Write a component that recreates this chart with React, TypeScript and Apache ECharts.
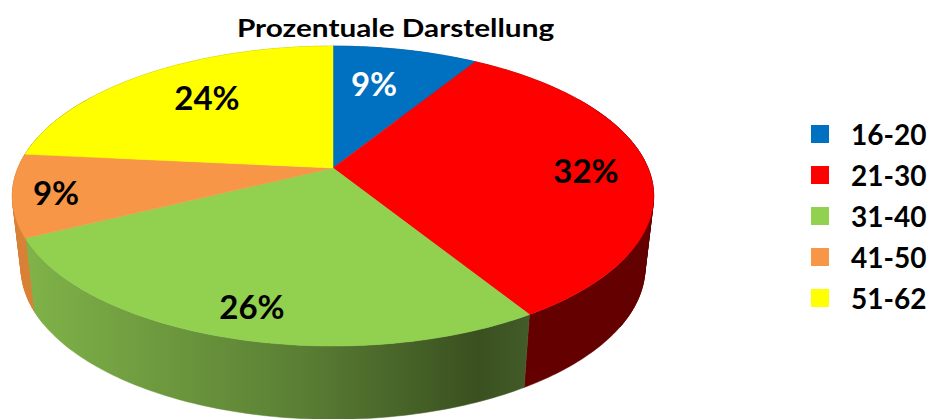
import React, { useEffect, useRef } from "react";
import * as echarts from "echarts";

const titleText = "Prozentuale Darstellung";
const categories = ["16-20", "21-30", "31-40", "41-50", "51-62"];
const shares = [8.8, 32.49, 26.49, 8.9, 23.5];

const sliceColors = ["#0070C0", "#FF0000", "#92D050", "#F79646", "#FFFF00"];
const labelColors = ["#FFFFFF", "#000000", "#000000", "#000000", "#000000"];
const labelAnchors = [
  [374, 83],
  [586, 170],
  [252, 306],
  [56, 192],
  [207, 97],
];
const FONT = "Lato, 'Noto Sans', sans-serif";

// perspective projection of the pie disc
const TILT = 0.187;
const TOP = { cx: 333, cy: 168, r: 315, s: 144.7 };
const BOTTOM = { cx: 333, cy: 239, r: 306.5, s: 146.6 };

function project(plane: typeof TOP, theta: number): number[] {
  const u = Math.sin(theta);
  const v = -Math.cos(theta);
  const d = 1 - TILT * v;
  return [plane.cx + (plane.r * u) / d, plane.cy + (plane.s * v) / d];
}

function arc(plane: typeof TOP, from: number, to: number): number[][] {
  const steps = Math.max(2, Math.ceil(((to - from) * 180) / Math.PI));
  const pts: number[][] = [];
  for (let i = 0; i <= steps; i++) {
    pts.push(project(plane, from + ((to - from) * i) / steps));
  }
  return pts;
}

// Side quads around the left and right extremes, so the outline follows
// the tangent between the upper and the lower rim.
function rimQuads(from: number, to: number): number[][][] {
  const quads: number[][][] = [];
  const step = Math.PI / 180;
  for (let t = from; t < to; t += step) {
    const next = Math.min(t + step, to);
    if (Math.abs(Math.sin(t)) > 0.85) {
      quads.push([
        project(TOP, t),
        project(TOP, next),
        project(BOTTOM, next),
        project(BOTTOM, t),
      ]);
    }
  }
  return quads;
}

const wallFills = (): any[] => [
  "#00426F",
  "#640000",
  new echarts.graphic.LinearGradient(
    30,
    0,
    527,
    0,
    [
      { offset: 0, color: "#7FB248" },
      { offset: 0.55, color: "#5A7E34" },
      { offset: 0.9, color: "#3A5020" },
      { offset: 1, color: "#425B28" },
    ],
    true,
  ),
  "#D98238",
  "#8F8F00",
];

export default function App() {
  const ref = useRef<HTMLDivElement>(null);
  useEffect(() => {
    if (!ref.current) return;
    const chart = echarts.init(ref.current, undefined, { renderer: "svg" });
    const total = shares.reduce((a, b) => a + b, 0);
    const walls = wallFills();
    let acc = 0;
    const series = categories.map((name, i) => {
      const from = (acc / total) * Math.PI * 2;
      acc += shares[i];
      const to = (acc / total) * Math.PI * 2;
      return {
        type: "custom",
        name,
        coordinateSystem: "none",
        silent: true,
        itemStyle: { color: sliceColors[i] },
        data: [shares[i]],
        renderItem: () => ({
          type: "group",
          children: [
            {
              type: "polygon",
              z2: 1,
              shape: {
                points: [...arc(TOP, from, to), ...arc(BOTTOM, from, to).reverse()],
              },
              style: { fill: walls[i], stroke: walls[i], lineWidth: 0.5 },
            },
            ...rimQuads(from, to).map((points) => ({
              type: "polygon",
              z2: 1,
              shape: { points },
              style: { fill: walls[i], stroke: walls[i], lineWidth: 0.5 },
            })),
            {
              type: "polygon",
              z2: 2,
              shape: { points: [[TOP.cx, TOP.cy], ...arc(TOP, from, to)] },
              style: { fill: sliceColors[i], stroke: sliceColors[i], lineWidth: 0.5 },
            },
            {
              type: "text",
              z2: 3,
              x: labelAnchors[i][0],
              y: labelAnchors[i][1],
              style: {
                text: `${Math.round(shares[i])}%`,
                fill: labelColors[i],
                font: `bold 33px ${FONT}`,
                textAlign: "center",
                textVerticalAlign: "middle",
              },
            },
          ],
        }),
      };
    });
    chart.setOption({
      animation: false,
      backgroundColor: "#FFFFFF",
      graphic: [
        {
          type: "text",
          x: 395.5,
          y: 27,
          scaleX: 1.19,
          style: {
            text: titleText,
            fill: "#000000",
            font: `bold 25px ${FONT}`,
            textAlign: "center",
            textVerticalAlign: "middle",
          },
        },
      ],
      legend: {
        orient: "vertical",
        left: 806,
        top: 114,
        itemWidth: 18,
        itemHeight: 18,
        itemGap: 11,
        icon: "rect",
        selectedMode: false,
        data: categories.map((name, i) => ({ name, itemStyle: { color: sliceColors[i] } })),
        textStyle: {
          fontFamily: FONT,
          fontWeight: "bold",
          fontSize: 28,
          color: "#000000",
          padding: [0, 0, 0, 17],
          lineHeight: 30,
        },
      },
      series,
    });
    return () => chart.dispose();
  }, []);
  return (
    <div
      ref={ref}
      style={{ position: "absolute", left: 0, top: 0, width: 931, height: 419 }}
    />
  );
}
